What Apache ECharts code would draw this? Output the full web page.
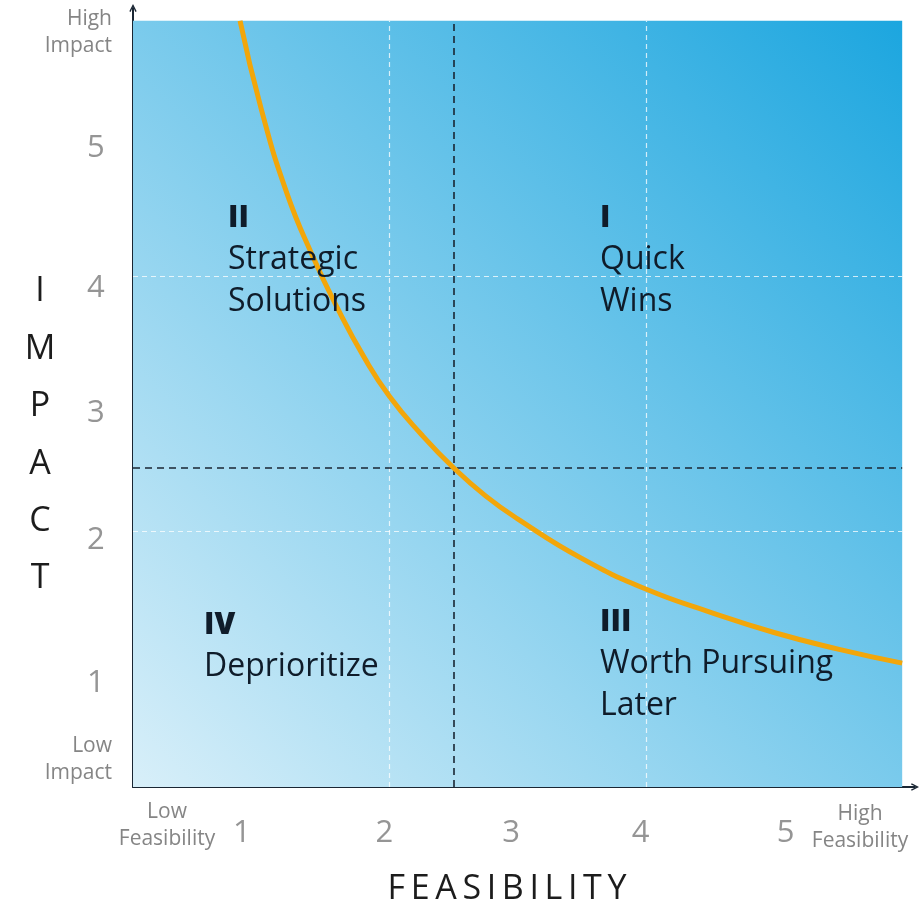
<!DOCTYPE html>
<html><head><meta charset="utf-8">
<script src="https://cdn.jsdelivr.net/npm/echarts@6/dist/echarts.min.js"></script>
<style>html,body{margin:0;padding:0;background:#fff}#c{width:922px;height:904px}</style>
</head><body><div id="c"></div>
<script>
// ---- data ----
const curveX = [0.835, 1.0, 1.2, 1.4, 1.6, 1.8, 2.0, 2.25, 2.5, 2.75, 3.0, 3.5, 4.0, 4.5, 5.0, 5.5, 6.0];
const curveY = [6.00, 5.31, 4.65, 4.16, 3.74, 3.37, 3.06, 2.76, 2.50, 2.28, 2.10, 1.79, 1.55, 1.37, 1.21, 1.08, 0.97];
const xTickLabels = ['1', '2', '3', '4', '5'];
const xTickPos = [0.85, 1.96, 2.95, 3.96, 5.09];
const yTickLabels = ['5', '4', '3', '2', '1'];
const yTickPos = [5.0, 3.91, 2.93, 1.93, 0.81];
const gridLinesAt = [2, 4];
const thresholdX = 2.5;
const thresholdY = 2.5;
const quadrantNumerals = ['I', 'II', 'III', 'IV'];
const quadrantNames = ['Quick\nWins', 'Strategic\nSolutions', 'Worth Pursuing\nLater', 'Deprioritize'];

const FONT = '"Open Sans", "Noto Sans", sans-serif';
const chart = echarts.init(document.getElementById('c'));
const arrow = 'path://M0,10 L5,0 L10,10 L8.3,10.9 L5,3.6 L1.7,10.9 Z';

const curveData = curveX.map((x, i) => [x, curveY[i]]);
const xLabelData = xTickPos.map((x, i) => ({value: [x, -0.36], name: xTickLabels[i]}));
const yLabelData = yTickPos.map((y, i) => ({value: [-0.29, y], name: yTickLabels[i]}));

const whiteDash = {color: 'rgba(255,255,255,0.75)', type: [5, 4], width: 1.2};
const blackDash = {color: '#1a2633', type: [7, 5], width: 1.6};

const markLines = [];
gridLinesAt.forEach(v => {
  markLines.push([{coord: [v, 0], lineStyle: whiteDash}, {coord: [v, 6]}]);
  markLines.push([{coord: [0, v], lineStyle: whiteDash}, {coord: [6, v]}]);
});
markLines.push([{coord: [thresholdX, 0], lineStyle: blackDash}, {coord: [thresholdX, 6]}]);
markLines.push([{coord: [0, thresholdY], lineStyle: blackDash}, {coord: [6, thresholdY]}]);

function quad(x, y, i) {
  return {
    type: 'text', x: x, y: y, z: 50,
    style: {
      rich: {
        n: {font: '800 30px ' + FONT, fill: '#0f1c2a', lineHeight: 42},
        t: {font: '32px ' + FONT, fill: '#0f1c2a', lineHeight: 42}
      },
      text: '{n|' + quadrantNumerals[i] + '}\n' + quadrantNames[i].split('\n').map(s => '{t|' + s + '}').join('\n')
    }
  };
}
function small(x, y, text, align) {
  return {type: 'text', x: x, y: y, style: {text: text, font: '21px ' + FONT, fill: '#858585', align: align, verticalAlign: 'top', lineHeight: 27}};
}

chart.setOption({
  animation: false,
  grid: {left: 133, top: 8, width: 782, height: 779, containLabel: false},
  xAxis: {
    type: 'value', min: 0, max: 6.1,
    axisLine: {show: true, lineStyle: {color: '#1a2633', width: 2}, symbol: ['none', arrow], symbolSize: [13, 8]},
    axisTick: {show: false}, axisLabel: {show: false}, splitLine: {show: false}
  },
  yAxis: {
    type: 'value', min: 0, max: 6.1,
    axisLine: {show: true, lineStyle: {color: '#1a2633', width: 2}, symbol: ['none', arrow], symbolSize: [13, 8]},
    axisTick: {show: false}, axisLabel: {show: false}, splitLine: {show: false}
  },
  series: [
    {
      type: 'line', data: [], silent: true,
      markArea: {
        silent: true,
        itemStyle: {color: new echarts.graphic.LinearGradient(0, 1, 1, 0, [
          {offset: 0, color: '#d8eff9'}, {offset: 1, color: '#1ca6df'}])},
        data: [[{coord: [0, 0]}, {coord: [6, 6]}]]
      },
      markLine: {silent: true, symbol: 'none', label: {show: false}, data: markLines}
    },
    {
      type: 'line', data: curveData, smooth: true, showSymbol: false, z: 5,
      lineStyle: {color: '#f2a60a', width: 5}
    },
    {
      type: 'scatter', data: xLabelData, symbolSize: 0, clip: false,
      label: {show: true, position: 'inside', formatter: p => p.name, fontFamily: FONT, fontSize: 31, color: '#7a7a7a'}
    },
    {
      type: 'scatter', data: yLabelData, symbolSize: 0, clip: false,
      label: {show: true, position: 'inside', formatter: p => p.name, fontFamily: FONT, fontSize: 31, color: '#7a7a7a'}
    }
  ],
  graphic: [
    small(112, 6, 'High\nImpact', 'right'),
    small(112, 733, 'Low\nImpact', 'right'),
    small(167, 799, 'Low\nFeasibility', 'center'),
    small(860, 801, 'High\nFeasibility', 'center'),
    {type: 'text', x: 40, y: 263, style: {text: 'I\nM\nP\nA\nC\nT', font: '34px ' + FONT, fill: '#1c1c1c', align: 'center', verticalAlign: 'top', lineHeight: 57.4}},
    {type: 'text', x: 507, y: 872, style: {text: 'F\u2009E\u2009A\u2009S\u2009I\u2009B\u2009I\u2009L\u2009I\u2009T\u2009Y', font: '34px ' + FONT, fill: '#1c1c1c', align: 'center', verticalAlign: 'top'}},
    quad(228, 197, 1),
    quad(600, 197, 0),
    quad(600, 601, 2),
    quad(204, 604, 3)
  ]
});
</script></body></html>
